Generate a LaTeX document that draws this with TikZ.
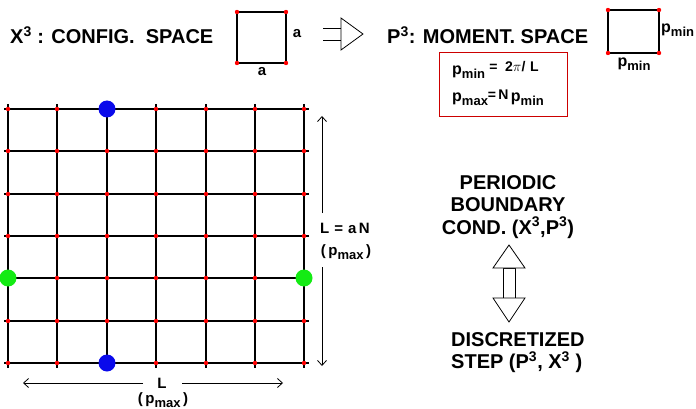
\documentclass[tikz,border=0pt]{standalone}
\usepackage{fontspec}
\setmainfont{Liberation Sans}
\usetikzlibrary{arrows.meta}
\newcommand{\psub}[3][16]{{\fontsize{#1}{#1}\selectfont p}\raisebox{-4pt}{\fontsize{#2}{#2}\selectfont #3}}
\definecolor{dotgreen}{RGB}{20,235,20}
\definecolor{dotblue}{RGB}{10,10,235}
\begin{document}
\begin{tikzpicture}[x=1pt,y=-1pt,
  big/.style={font=\fontsize{20}{22}\selectfont\bfseries, inner sep=0pt},
  small/.style={font=\fontsize{15}{16}\selectfont\bfseries, inner sep=0pt},
  mid/.style={font=\fontsize{15}{16}\selectfont\bfseries, inner sep=0pt},
  gline/.style={line width=1.8pt, black},
  rdot/.style={fill=red, draw=none},
  barb/.style={-{Straight Barb[length=5pt,width=9pt]}, line width=0.8pt}]
\useasboundingbox (0,0) rectangle (696,409);
% grid
\foreach \v in {8,57,107,156,206,255,304} {
  \draw[gline] (\v,104) -- (\v,368);
}
\foreach \v in {109,151,194,236,278,321,363} {
  \draw[gline] (4,\v) -- (309,\v);
}
\foreach \i in {8,57,107,156,206,255,304} {
  \foreach \j in {109,151,194,236,278,321,363} {
    \fill[rdot] (\i,\j) circle (2.2pt);
  }
}
\fill[dotblue] (107,109) circle (8.5pt);
\fill[dotblue] (107,363) circle (8.5pt);
\fill[dotgreen] (8,278) circle (8.5pt);
\fill[dotgreen] (304,278) circle (8.5pt);
% bottom L
\node[small] (Lh) at (162,383) {L};
\node[small] (Lhp) at (163,400) {(\,\psub[15]{13}{max}\,)};
\coordinate (Lhl) at (23,383);
\coordinate (Lhr) at (283,383);
\draw[barb] (143,383) -- (Lhl);
\draw[barb] (182,383) -- (Lhr);
% right L
\node[small] (Lv) at (345,228) {L\,\,=\,\,a\,N};
\node[small] (Lvp) at (346,252) {(\,\psub[15]{13}{max}\,)};
\coordinate (Lvt) at (322,116);
\coordinate (Lvb) at (322,366);
\draw[barb] (322,213) -- (Lvt);
\draw[barb] (322,267) -- (Lvb);
% top left
\node[big, anchor=west] (xs) at (10,35) {X\textsuperscript{3} : CONFIG.\ \ SPACE};
\draw[line width=1.3pt] (237,12) rectangle (286,63);
\foreach \p in {(237,12),(286,12),(237,63),(286,63)} \fill[rdot] \p circle (2.2pt);
\node[small] (a1) at (297,34) {a};
\node[small] (a2) at (262,72) {a};
% hollow arrow right
\draw[line width=0.8pt] (323,28) -- (341,28) (323,40) -- (341,40);
\draw[line width=0.8pt, fill=white] (341,18) -- (363,34) -- (341,50) -- cycle;
% top right
\node[big, anchor=west] (ps) at (387,35) {P\textsuperscript{3}: MOMENT. SPACE};
\draw[line width=1.3pt] (608,10) rectangle (659,53);
\foreach \p in {(608,10),(659,10),(608,53),(659,53)} \fill[rdot] \p circle (2.2pt);
\node[mid, anchor=west] (pm1) at (661,30) {\psub{13}{min}};
\node[mid] (pm2) at (634,64) {\psub{13}{min}};
% red box
\node[draw=red!80!black, line width=1pt, minimum width=128pt, minimum height=64pt, inner sep=0pt] (box) at (503,85) {};
\node[mid, anchor=west] (f1) at (452,70) {\psub{13}{min}\ \raisebox{3pt}{\fontsize{14}{14}\selectfont =\ \ 2$\pi$/\,\,L}};
\node[mid, anchor=west] (f2) at (452,98) {\psub{13}{max}\raisebox{2pt}{\fontsize{14}{14}\selectfont =\,N\,}\psub{13}{min}};
% right side
\node[align=center, inner sep=0pt, font=\fontsize{20}{22.5}\selectfont\bfseries] (pbc) at (508,207) {PERIODIC\\BOUNDARY\\COND. (X\textsuperscript{3},P\textsuperscript{3})};
\draw[line width=0.8pt] (503,268) rectangle (515,298);
\draw[line width=0.8pt, fill=white] (493,268) -- (509,245) -- (525,268) -- cycle;
\draw[line width=0.8pt, fill=white] (493,298) -- (509,322) -- (525,298) -- cycle;
\node[align=left, anchor=west, inner sep=0pt, font=\fontsize{20}{22}\selectfont\bfseries] (ds) at (451,353) {DISCRETIZED\\STEP (P\textsuperscript{3}, X\textsuperscript{3} )};
\end{tikzpicture}
\end{document}
